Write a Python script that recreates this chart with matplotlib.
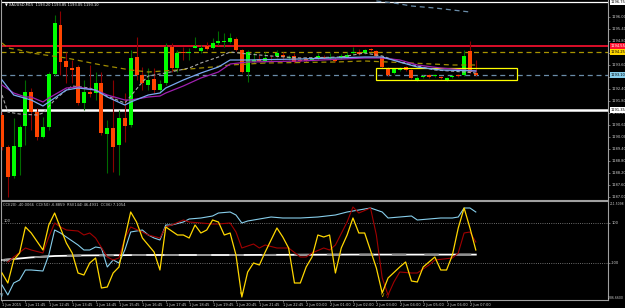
import numpy as np
import matplotlib
matplotlib.use('Agg')
import matplotlib.pyplot as plt
from matplotlib.patches import Rectangle

# XAUUSD M15 candles
opens = [1191.10, 1189.50, 1188.05, 1189.50, 1190.55, 1192.25, 1191.25, 1190.00, 1190.50, 1193.15,
         1195.60, 1193.80, 1193.45, 1193.50, 1191.70, 1192.25, 1192.20, 1192.70, 1190.15, 1190.45,
         1189.60, 1190.95, 1190.60, 1194.00, 1193.10, 1192.60, 1192.90, 1192.35, 1192.70, 1194.50,
         1193.45, 1194.25, 1194.20, 1194.45, 1194.30, 1194.55, 1194.45, 1194.70, 1194.75, 1194.75,
         1194.90, 1194.35, 1193.25, 1193.75, 1193.90, 1193.80, 1193.90, 1194.05, 1194.10, 1193.95,
         1194.05, 1193.85, 1193.90, 1193.85, 1193.95, 1194.00, 1193.95, 1193.90, 1193.95, 1194.00,
         1194.20, 1194.25, 1194.20, 1194.40, 1194.30, 1194.00, 1193.45, 1193.20, 1193.35, 1193.50,
         1193.35, 1192.85, 1193.00, 1193.10, 1193.05, 1193.00, 1192.85, 1193.00, 1193.10, 1193.10,
         1194.30, 1193.20]
closes = [1189.50, 1188.00, 1189.55, 1190.50, 1192.25, 1191.25, 1190.00, 1190.50, 1193.15, 1195.70,
          1193.75, 1193.50, 1193.35, 1191.70, 1192.25, 1192.15, 1192.70, 1190.20, 1190.45, 1189.50,
          1190.95, 1190.55, 1193.95, 1193.10, 1192.70, 1192.85, 1192.35, 1192.65, 1194.50, 1193.45,
          1194.20, 1194.20, 1194.25, 1194.55, 1194.45, 1194.40, 1194.70, 1194.80, 1194.80, 1194.95,
          1194.35, 1193.25, 1194.25, 1193.85, 1193.80, 1193.95, 1193.85, 1194.20, 1194.00, 1194.00,
          1193.75, 1193.80, 1193.80, 1193.90, 1194.05, 1193.95, 1194.00, 1193.80, 1194.05, 1194.10,
          1194.25, 1194.15, 1194.35, 1194.35, 1194.05, 1193.50, 1193.10, 1193.40, 1193.45, 1193.35,
          1192.95, 1192.95, 1193.05, 1193.00, 1193.10, 1192.95, 1192.95, 1193.05, 1193.05, 1194.05,
          1193.25, 1193.10]
highs = [1191.25, 1189.60, 1190.95, 1190.60, 1192.85, 1192.45, 1191.45, 1191.00, 1193.25, 1196.10,
         1196.30, 1194.25, 1193.85, 1193.60, 1192.85, 1193.60, 1193.25, 1193.25, 1190.85, 1192.85,
         1191.35, 1192.20, 1194.35, 1195.00, 1193.50, 1193.45, 1193.45, 1192.85, 1194.70, 1194.70,
         1194.35, 1194.50, 1194.45, 1195.00, 1194.60, 1194.75, 1194.95, 1195.30, 1195.20, 1195.20,
         1195.00, 1194.40, 1194.35, 1194.25, 1194.10, 1194.25, 1194.10, 1194.35, 1194.25, 1194.10,
         1194.20, 1194.00, 1194.00, 1194.00, 1194.20, 1194.10, 1194.20, 1194.00, 1194.15, 1194.25,
         1194.50, 1194.40, 1194.40, 1194.45, 1194.35, 1194.05, 1193.50, 1193.45, 1193.50, 1193.55,
         1193.40, 1193.05, 1193.10, 1193.15, 1193.15, 1193.05, 1193.00, 1193.10, 1193.15, 1194.35,
         1194.80, 1193.85]
lows = [1189.35, 1187.00, 1187.95, 1188.10, 1189.60, 1190.35, 1189.85, 1189.95, 1190.35, 1193.05,
        1193.10, 1192.70, 1192.70, 1191.60, 1191.35, 1192.00, 1191.85, 1190.10, 1188.20, 1188.25,
        1188.10, 1189.75, 1190.50, 1192.85, 1192.35, 1192.35, 1192.20, 1192.20, 1192.60, 1193.25,
        1193.25, 1193.85, 1193.85, 1194.45, 1194.20, 1194.35, 1194.40, 1194.60, 1194.50, 1194.70,
        1194.30, 1193.20, 1192.75, 1193.70, 1193.75, 1193.70, 1193.80, 1193.95, 1193.85, 1193.85,
        1193.70, 1193.75, 1193.75, 1193.80, 1193.85, 1193.90, 1193.85, 1193.75, 1193.90, 1193.95,
        1194.15, 1194.10, 1194.15, 1194.30, 1194.00, 1193.45, 1193.05, 1193.15, 1193.30, 1193.30,
        1192.90, 1192.80, 1192.95, 1192.95, 1193.00, 1192.90, 1192.80, 1192.95, 1193.00, 1193.05,
        1193.20, 1193.05]

# moving averages on the price chart (bar index, price)
blue_bar = [0, 2, 5, 7, 8, 11, 13, 16, 18, 21, 22, 25, 27, 28, 31, 34, 37, 39, 42, 51, 62, 65, 68, 71, 75, 81]
blue_val = [1192.85, 1192.10, 1191.85, 1191.55, 1191.75, 1192.35, 1192.45, 1192.35, 1192.00, 1191.60,
            1191.75, 1192.10, 1192.20, 1192.45, 1192.85, 1193.20, 1193.50, 1193.85, 1193.85, 1193.90,
            1194.00, 1194.00, 1193.75, 1193.50, 1193.35, 1193.30]
purple_bar = [0, 2, 4, 5, 7, 8, 11, 13, 16, 18, 21, 22, 25, 27, 28, 31, 34, 37, 39, 42, 51, 62, 65, 68, 71, 75, 81]
purple_val = [1192.60, 1192.20, 1192.00, 1192.00, 1191.75, 1191.95, 1192.45, 1192.50, 1192.35, 1192.10,
              1191.85, 1191.85, 1192.00, 1192.05, 1192.20, 1192.55, 1192.95, 1193.25, 1193.65, 1193.75,
              1193.80, 1193.95, 1193.95, 1193.85, 1193.60, 1193.45, 1193.30]
grey_bar = [0, 1, 3, 6, 7, 9, 11, 12, 15, 18, 21, 24, 25, 28, 32, 34, 37, 39, 42, 46, 51, 58, 62, 65, 68, 74, 79, 81]
grey_val = [1192.10, 1191.25, 1191.15, 1191.10, 1191.20, 1191.85, 1192.35, 1192.55, 1192.45, 1192.05,
            1191.70, 1192.75, 1193.05, 1193.20, 1193.45, 1193.70, 1194.00, 1194.25, 1194.15, 1194.05,
            1193.95, 1194.00, 1194.20, 1194.05, 1193.75, 1193.35, 1193.25, 1193.20]
olive_bar = [0, 1, 3, 5, 11, 17, 22, 25, 30, 36, 39, 45, 57, 62, 70, 77, 81]
olive_val = [1194.70, 1194.45, 1194.35, 1194.20, 1193.95, 1193.60, 1193.35, 1193.25, 1193.35, 1193.50,
             1193.60, 1193.70, 1193.75, 1193.80, 1193.70, 1193.60, 1193.60]
steel_bar = [64, 67, 70, 74, 77, 80]
steel_val = [1196.80, 1196.70, 1196.55, 1196.45, 1196.35, 1196.25]

# horizontal levels and the yellow box
red_level = 1194.55
olive_level = 1194.25
bid_level = 1193.10
white_level = 1191.35
top_level = 1196.75
box_bars = (64, 88)
box_prices = (1192.85, 1193.45)

# indicator window (bar index, value)
yel_bar = [0, 1, 2, 3, 4, 5, 7, 8, 9, 10, 11, 12, 13, 14, 15, 16, 17, 18, 19, 20, 21, 22, 23, 24, 26, 27, 28,
           30, 31, 32, 33, 34, 35, 36, 37, 38, 39, 40, 41, 42, 43, 44, 45, 47, 48, 49, 50, 51, 52, 53, 54,
           55, 56, 57, 58, 59, 60, 61, 62, 64, 65, 66, 68, 69, 70, 71, 72, 74, 75, 76, 77, 78, 79, 80, 81]
yel_val = [-150, -200, -85, -50, 80, 50, -35, 90, 150, 75, 0, -50, -150, -160, -100, -75, -225, -220, -150,
           -120, 25, 155, 105, 25, -45, -135, 80, 40, 40, 25, 90, 50, 65, 115, 105, 40, 50, -60, -270, -145,
           -100, -110, -45, 75, 30, -25, -200, -200, -120, -70, 40, 30, 40, -150, -25, 40, 125, 50, 50,
           -125, -250, -175, -120, -95, -190, -195, -120, -70, -135, -135, -60, 75, 175, 75, -35]
red_bar = [1, 2, 4, 5, 7, 8, 9, 10, 11, 13, 14, 15, 16, 18, 19, 20, 21, 22, 24, 25, 27, 28, 29, 31, 32, 34,
           36, 37, 39, 40, 41, 43, 44, 45, 47, 49, 51, 52, 53, 55, 56, 57, 59, 60, 61, 63, 64, 65, 66, 67,
           68, 70, 71, 73, 74, 77, 78, 79, 80, 81]
red_val = [-95, -70, -25, -35, -50, 30, 100, 80, 65, 60, 40, 50, 25, -70, -85, -75, 25, 80, 55, 40, 25, 80,
           90, 115, 105, 100, 95, 95, 100, 55, -25, -5, -25, -10, -25, -25, -70, -70, -50, -25, -35, -10,
           105, 180, 150, 175, 40, -175, -260, -195, -145, -150, -150, -110, -85, -75, -50, 50, 55, 5]
sky_bar = [0, 1, 2, 3, 4, 5, 7, 8, 9, 10, 11, 13, 14, 15, 16, 17, 18, 19, 20, 21, 22, 24, 25, 26, 27, 28,
           29, 31, 32, 34, 36, 37, 39, 40, 41, 42, 44, 46, 48, 51, 54, 57, 59, 61, 63, 65, 66, 68, 70, 71,
           73, 75, 77, 78, 79, 80, 81]
sky_val = [-210, -260, -200, -185, -135, -135, -140, -60, 65, 50, 30, -10, -35, -35, -20, -25, -120, -85,
           -100, -35, 55, 65, 40, 25, 15, 90, 90, 105, 120, 125, 135, 150, 155, 140, 100, 110, 120, 130,
           125, 125, 130, 140, 155, 165, 175, 155, 125, 130, 135, 115, 120, 125, 125, 130, 175, 175, 155]
wht_bar = [0, 2, 5, 9, 14, 24, 40, 60, 81]
wht_val = [-85, -80, -72, -65, -62, -60, -60, -58, -58]
arrow_bar = [0, 41, 65, 66]
arrow_val = [-262, -258, -262, -266]
arrow_col = ['#87ceeb', '#ffd700', '#ffd700', '#b00000']

time_bars = list(range(0, 81, 4))
time_labels = ['1 Jun 2015', '1 Jun 11:45', '1 Jun 12:45', '1 Jun 13:45', '1 Jun 14:45', '1 Jun 15:45',
               '1 Jun 16:45', '1 Jun 17:45', '1 Jun 18:45', '1 Jun 19:45', '1 Jun 20:45', '1 Jun 21:45',
               '1 Jun 22:45', '2 Jun 00:00', '2 Jun 01:00', '2 Jun 02:00', '2 Jun 03:00', '2 Jun 04:00',
               '2 Jun 05:00', '2 Jun 06:00', '2 Jun 07:00']
price_ticks = [1196.0, 1195.4, 1194.8, 1194.2, 1193.6, 1193.0, 1192.4, 1191.8, 1191.2, 1190.6,
               1190.0, 1189.4, 1188.8, 1188.2, 1187.6, 1187.0]

W, H = 625, 308
FS = 2.6
fig = plt.figure(figsize=(W / 100, H / 100), dpi=100, facecolor='black')
ax = fig.add_axes([1 / W, 108 / H, 607 / W, 200 / H], facecolor='black')
ax2 = fig.add_axes([1 / W, 8 / H, 607 / W, 99 / H], facecolor='black')

for a in (ax, ax2):
    a.set_xlim(-0.17, 103.6)
    for s in a.spines.values():
        s.set_color('#a0a0a0')
        s.set_linewidth(0.8)
    a.yaxis.tick_right()
    a.tick_params(axis='y', colors='#a0a0a0', labelcolor='#d0d0d0', labelsize=FS, length=1.5,
                  width=0.5, pad=0.8)
ax.spines['top'].set_visible(False)
ax.set_ylim(1186.85, 1196.85)
ax2.set_ylim(-285, 210)

# candles
o = np.array(opens)
c = np.array(closes)
hi = np.array(highs)
lo = np.array(lows)
idx = np.arange(len(o))
up = c >= o
body_lo = np.minimum(o, c)
body_h = np.maximum(np.abs(c - o), 0.05)
ax.vlines(idx[up], lo[up], hi[up], color='#006a00', lw=0.8, zorder=3)
ax.vlines(idx[~up], lo[~up], hi[~up], color='#8b0000', lw=0.8, zorder=3)
ax.bar(idx[up], body_h[up], bottom=body_lo[up], width=0.68, color='#00ff00', lw=0, zorder=4)
ax.bar(idx[~up], body_h[~up], bottom=body_lo[~up], width=0.68, color='#ff4500', lw=0, zorder=4)

# levels
ax.axhline(top_level, color='white', lw=0.9, zorder=2)
ax.axhline(red_level, color='#ff1030', lw=1.2, zorder=2)
ax.axhline(olive_level, color='#a89400', lw=0.9, dashes=(4, 3), zorder=2)
ax.axhline(bid_level, color='#6a8ca8', lw=0.9, dashes=(4, 3), zorder=2)
ax.axhline(white_level, color='white', lw=1.8, zorder=2)
ax.add_patch(Rectangle((box_bars[0], box_prices[0]), box_bars[1] - box_bars[0],
                       box_prices[1] - box_prices[0], fill=False, ec='#ffff00', lw=0.9, zorder=5))

# moving averages
ax.plot(olive_bar, olive_val, color='#a08c00', lw=0.9, dashes=(4, 3), zorder=5)
ax.plot(grey_bar, grey_val, color='#a8a8a8', lw=0.8, dashes=(3, 2), zorder=5)
ax.plot(purple_bar, purple_val, color='#a020b0', lw=0.9, zorder=5)
ax.plot(blue_bar, blue_val, color='#7aa8f0', lw=0.9, zorder=6)
ax.plot(steel_bar, steel_val, color='#6a8ca8', lw=0.9, dashes=(4, 3), zorder=5)

ax.set_yticks(price_ticks)
ax.set_yticklabels([f'{p:.2f}' for p in price_ticks])
ax.set_xticks([])

# colored price tags on the axis
tags = [(top_level, 'white', 'black'), (red_level, '#ff1030', 'white'), (olive_level, '#ffd700', 'black'),
        (bid_level, '#87ceeb', 'black'), (white_level, 'white', 'black')]
for p, fc, tc in tags:
    ax.text(1.004, p, f'{p:.2f}', transform=ax.get_yaxis_transform(), fontsize=FS, color=tc,
            ha='left', va='center', clip_on=False, zorder=10,
            bbox=dict(boxstyle='square,pad=0.2', fc=fc, ec='none'))

# indicator window
ax2.axhline(100, color='#909090', lw=0.6, ls=':')
ax2.axhline(-100, color='#909090', lw=0.6, ls=':')
ax2.plot(wht_bar, wht_val, color='white', lw=1.3, zorder=3)
ax2.plot(wht_bar, wht_val, color='#909090', lw=1.3, dashes=(8, 10), zorder=3)
ax2.plot(sky_bar, sky_val, color='#87ceeb', lw=0.8, zorder=4)
ax2.plot(red_bar, red_val, color='#a00000', lw=0.8, zorder=4)
ax2.plot(yel_bar, yel_val, color='#ffd700', lw=0.9, zorder=5)
for b, v, col in zip(arrow_bar, arrow_val, arrow_col):
    ax2.text(b, v, 'V', color=col, fontsize=3.5, ha='center', va='center', zorder=6)
ax2.text(0.2, 100, '100', color='#d0d0d0', fontsize=FS, ha='left', va='bottom')
ax2.text(0.2, -100, '-100', color='#d0d0d0', fontsize=FS, ha='left', va='bottom')

ax2.set_yticks([100, -100])
ax2.set_yticklabels(['100', '-100'])
# window scale max / min, right-aligned so they stay inside the picture
fig.text(624 / W, 1 - 204 / H, '211.5098', fontsize=2.2, color='#d0d0d0', ha='right', va='center')
fig.text(624 / W, 1 - 298 / H, '-286.6600', fontsize=2.2, color='#d0d0d0', ha='right', va='center')

ax2.set_xticks(time_bars)
ax2.set_xticklabels(time_labels, ha='left')
ax2.tick_params(axis='x', colors='#a0a0a0', labelcolor='#d0d0d0', labelsize=FS, length=1.5,
                width=0.5, pad=0.5)

# headers
fig.text(5 / W, 1 - 5 / H, '\u25bc XAUUSD,M15  1193.20 1193.85 1193.05 1193.10', color='white',
         fontsize=FS, ha='left', va='center')
fig.text(3 / W, 1 - 205 / H, 'CCI(20) -40.0066  CCI(50) -6.8859  RSI(144) 46.4931  CCI(6) 7.1054',
         color='#d0d0d0', fontsize=FS, ha='left', va='center')

fig.savefig('out.png', dpi=100, facecolor='black')
